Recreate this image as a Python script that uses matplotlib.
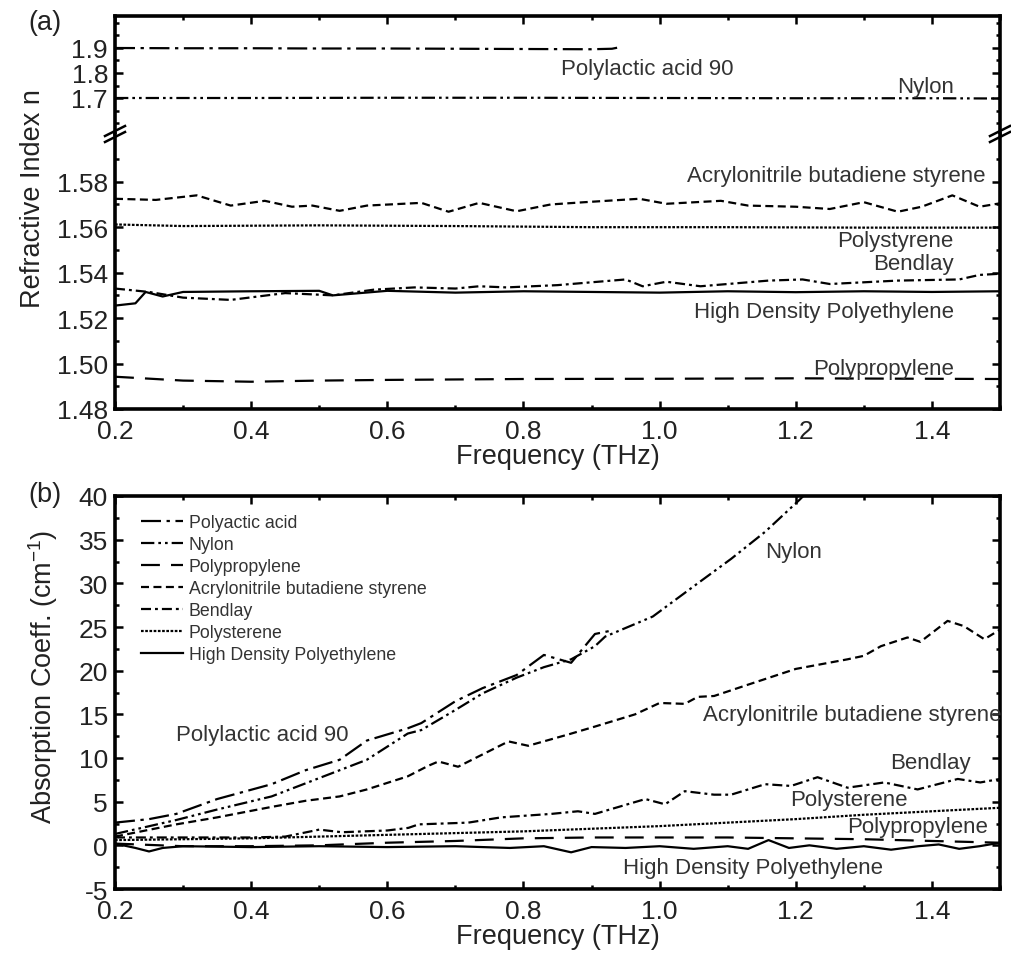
import matplotlib
matplotlib.use('Agg')
import matplotlib.pyplot as plt
from matplotlib.ticker import FixedLocator, MultipleLocator, FormatStrFormatter
from matplotlib.lines import Line2D

plt.rcParams['font.family'] = ['Liberation Sans', 'DejaVu Sans']
plt.rcParams['mathtext.default'] = 'regular'

# ---------------- (a) refractive index ----------------
pla_n_freq = [0.20, 0.30, 0.40, 0.50, 0.60, 0.70, 0.80, 0.90, 0.93, 0.945]
pla_n = [1.900, 1.899, 1.899, 1.898, 1.898, 1.897, 1.896, 1.895, 1.897, 1.905]

nylon_n_freq = [0.20, 0.40, 0.60, 0.80, 1.00, 1.20, 1.40, 1.50]
nylon_n = [1.700, 1.700, 1.701, 1.701, 1.700, 1.699, 1.699, 1.698]

abs_n_freq = [0.20, 0.26, 0.32, 0.37, 0.42, 0.46, 0.49, 0.53, 0.57, 0.65, 0.69, 0.735, 0.79,
              0.84, 0.89, 0.97, 1.01, 1.09, 1.13, 1.20, 1.25, 1.30, 1.35, 1.385, 1.43, 1.47, 1.50]
abs_n = [1.5725, 1.5720, 1.5740, 1.5695, 1.5716, 1.5690, 1.5695, 1.5672, 1.5695, 1.5707, 1.5668,
         1.5707, 1.5670, 1.5700, 1.5710, 1.5725, 1.5703, 1.5716, 1.5695, 1.5690, 1.5680, 1.5710,
         1.5668, 1.5690, 1.5740, 1.5690, 1.5705]

ps_n_freq = [0.20, 0.30, 0.50, 0.70, 0.90, 1.10, 1.30, 1.50]
ps_n = [1.5612, 1.5605, 1.5608, 1.5605, 1.5600, 1.5600, 1.5598, 1.5598]

bend_n_freq = [0.20, 0.25, 0.30, 0.37, 0.45, 0.52, 0.58, 0.64, 0.70, 0.735, 0.775, 0.85, 0.95,
               0.975, 1.01, 1.06, 1.16, 1.21, 1.25, 1.35, 1.44, 1.47, 1.50]
bend_n = [1.5330, 1.5315, 1.5290, 1.5280, 1.5310, 1.5300, 1.5325, 1.5335, 1.5330, 1.5340, 1.5335,
          1.5345, 1.5370, 1.5340, 1.5360, 1.5340, 1.5365, 1.5370, 1.5350, 1.5365, 1.5370, 1.5390,
          1.5395]

hdpe_n_freq = [0.20, 0.23, 0.245, 0.27, 0.30, 0.40, 0.50, 0.52, 0.56, 0.60, 0.70, 0.80, 0.90,
               1.00, 1.10, 1.20, 1.30, 1.40, 1.50]
hdpe_n = [1.5255, 1.5265, 1.5315, 1.5295, 1.5315, 1.5318, 1.5320, 1.5300, 1.5310, 1.5320, 1.5312,
          1.5318, 1.5315, 1.5312, 1.5318, 1.5314, 1.5318, 1.5315, 1.5318]

pp_n_freq = [0.20, 0.30, 0.40, 0.50, 0.60, 0.80, 1.00, 1.20, 1.40, 1.50]
pp_n = [1.4942, 1.4925, 1.4920, 1.4925, 1.4928, 1.4932, 1.4933, 1.4935, 1.4933, 1.4932]

# ---------------- (b) absorption coefficient ----------------
pla_a_freq = [0.20, 0.25, 0.29, 0.35, 0.43, 0.48, 0.53, 0.57, 0.63, 0.65, 0.70, 0.74, 0.79,
              0.83, 0.87, 0.905, 0.93]
pla_a = [2.6, 3.0, 3.6, 5.3, 7.0, 8.6, 9.8, 12.0, 13.4, 14.0, 16.5, 18.0, 19.5, 21.8, 20.9, 24.2, 24.6]

nylon_a_freq = [0.20, 0.29, 0.35, 0.43, 0.48, 0.57, 0.63, 0.65, 0.70, 0.74, 0.79, 0.83, 0.87,
                0.905, 0.92, 0.99, 1.056, 1.105, 1.155, 1.206, 1.23]
nylon_a = [1.3, 2.9, 4.1, 5.6, 7.1, 9.8, 12.8, 13.2, 15.5, 17.4, 19.2, 20.4, 21.3, 22.8, 23.9,
           26.2, 30.0, 32.8, 35.9, 39.6, 41.5]

abs_a_freq = [0.20, 0.29, 0.35, 0.43, 0.48, 0.53, 0.57, 0.63, 0.66, 0.675, 0.704, 0.778, 0.807,
              0.866, 0.905, 0.964, 1.00, 1.037, 1.056, 1.08, 1.13, 1.20, 1.276, 1.30, 1.325,
              1.364, 1.383, 1.423, 1.447, 1.477, 1.50]
abs_a = [1.0, 2.4, 3.2, 4.4, 5.1, 5.6, 6.4, 7.9, 9.1, 9.6, 9.0, 11.9, 11.4, 12.7, 13.6, 15.0,
         16.3, 16.2, 17.0, 17.1, 18.4, 20.2, 21.3, 21.7, 22.8, 23.8, 23.3, 25.7, 25.1, 23.6, 24.7]

bend_a_freq = [0.20, 0.30, 0.40, 0.45, 0.50, 0.533, 0.60, 0.631, 0.646, 0.719, 0.767, 0.841,
               0.88, 0.905, 0.979, 1.008, 1.037, 1.08, 1.105, 1.155, 1.193, 1.232, 1.276, 1.33,
               1.379, 1.438, 1.471, 1.50]
bend_a = [0.9, 0.9, 0.9, 1.0, 1.8, 1.5, 1.7, 2.0, 2.4, 2.6, 3.2, 3.6, 3.9, 3.6, 5.3, 4.7, 6.2,
          5.8, 5.8, 7.0, 6.8, 7.8, 6.6, 7.2, 6.4, 7.6, 7.2, 7.6]

ps_a_freq = [0.20, 0.40, 0.60, 0.80, 1.00, 1.10, 1.20, 1.30, 1.40, 1.50]
ps_a = [0.6, 0.8, 1.2, 1.6, 2.2, 2.6, 3.0, 3.5, 3.9, 4.3]

pp_a_freq = [0.20, 0.30, 0.40, 0.50, 0.60, 0.70, 0.80, 0.90, 1.00, 1.10, 1.20, 1.30, 1.40, 1.50]
pp_a = [0.2, -0.1, -0.1, 0.0, 0.3, 0.5, 0.8, 0.9, 0.9, 0.9, 0.8, 0.7, 0.5, 0.3]

hdpe_a_freq = [0.20, 0.23, 0.25, 0.27, 0.30, 0.40, 0.50, 0.60, 0.70, 0.78, 0.83, 0.87, 0.90,
               0.95, 1.00, 1.05, 1.10, 1.13, 1.16, 1.19, 1.22, 1.26, 1.30, 1.34, 1.38, 1.41,
               1.44, 1.47, 1.50]
hdpe_a = [0.2, -0.3, -0.7, -0.3, -0.1, -0.2, -0.1, -0.2, -0.1, -0.3, -0.1, -0.8, -0.2, -0.3,
          -0.1, -0.4, -0.1, -0.4, 0.6, -0.3, 0.0, -0.4, -0.1, -0.5, -0.1, 0.1, -0.4, -0.1, 0.3]

legend_names = ['Polyactic acid', 'Nylon', 'Polypropylene', 'Acrylonitrile butadiene styrene',
                'Bendlay', 'Polysterene', 'High Density Polyethylene']

# line styles
LW = 1.6
ls_pla = (0, (9, 2.5, 1.5, 2.5))
ls_nylon = (0, (6, 1.8, 1.2, 1.8, 1.2, 1.8))
ls_pp = (0, (8.5, 5))
ls_abs = (0, (3.6, 2))
ls_bend = (0, (4.5, 1.8, 1.3, 1.8))
ls_ps = (0, (1.2, 0.7))

TXT = '#333333'
TICK_FS = 19
LAB_FS = 19.5
ANN_FS = 16


def style_axis(ax, top, bottom):
    for s in ax.spines.values():
        s.set_linewidth(2.6)
    ax.tick_params(which='both', direction='in', left=True, right=True, top=top, bottom=bottom,
                   labelsize=TICK_FS, labelcolor='#222222', width=1.8, pad=5)
    ax.tick_params(axis='x', which='both', pad=7)
    ax.tick_params(which='major', length=5.5)
    ax.tick_params(which='minor', length=3)
    ax.set_xlim(0.2, 1.5)
    ax.xaxis.set_major_locator(MultipleLocator(0.2))
    ax.xaxis.set_minor_locator(MultipleLocator(0.1))
    ax.xaxis.set_major_formatter(FormatStrFormatter('%.1f'))


fig = plt.figure(figsize=(10.12, 9.54), dpi=100)
W, H = 1012.0, 954.0
left = 115 / W
width = (1000 - 115) / W

ax_up = fig.add_axes([left, 1 - 135 / H, width, (135 - 17) / H])
ax_lo = fig.add_axes([left, 1 - 410 / H, width, (410 - 135) / H])
ax_b = fig.add_axes([left, 1 - 890 / H, width, (890 - 497) / H])

# upper part of the broken axis
ax_up.plot(pla_n_freq, pla_n, color='k', lw=LW, ls=ls_pla)
ax_up.plot(nylon_n_freq, nylon_n, color='k', lw=LW, ls=ls_nylon)
style_axis(ax_up, top=True, bottom=False)
ax_up.spines['bottom'].set_visible(False)
ax_up.tick_params(labelbottom=False)
ax_up.set_ylim(1.556, 2.028)
ax_up.yaxis.set_major_locator(FixedLocator([1.7, 1.8, 1.9]))
ax_up.yaxis.set_minor_locator(FixedLocator([1.6, 1.65, 1.75, 1.85, 1.95, 2.0]))
ax_up.yaxis.set_major_formatter(FormatStrFormatter('%.1f'))

# lower part
ax_lo.plot(abs_n_freq, abs_n, color='k', lw=LW, ls=ls_abs)
ax_lo.plot(ps_n_freq, ps_n, color='k', lw=LW, ls=ls_ps)
ax_lo.plot(bend_n_freq, bend_n, color='k', lw=LW, ls=ls_bend)
ax_lo.plot(hdpe_n_freq, hdpe_n, color='k', lw=LW, ls='-')
ax_lo.plot(pp_n_freq, pp_n, color='k', lw=LW, ls=ls_pp)
style_axis(ax_lo, top=False, bottom=True)
ax_lo.spines['top'].set_visible(False)
ax_lo.set_ylim(1.48, 1.601)
ax_lo.yaxis.set_major_locator(FixedLocator([1.48, 1.50, 1.52, 1.54, 1.56, 1.58]))
ax_lo.yaxis.set_minor_locator(FixedLocator([1.49, 1.51, 1.53, 1.55, 1.57, 1.59]))
ax_lo.yaxis.set_major_formatter(FormatStrFormatter('%.2f'))
ax_lo.set_xlabel('Frequency (THz)', fontsize=LAB_FS, color='#222222', labelpad=0)

ax_up.text(0.855, 1.816, 'Polylactic acid 90', fontsize=ANN_FS, color=TXT, ha='left', va='center')
ax_up.text(1.432, 1.744, 'Nylon', fontsize=ANN_FS, color=TXT, ha='right', va='center')
ax_lo.text(1.479, 1.5826, 'Acrylonitrile butadiene styrene', fontsize=ANN_FS, color=TXT,
           ha='right', va='center')
ax_lo.text(1.432, 1.554, 'Polystyrene', fontsize=ANN_FS, color=TXT, ha='right', va='center')
ax_lo.text(1.432, 1.5439, 'Bendlay', fontsize=ANN_FS, color=TXT, ha='right', va='center')
ax_lo.text(1.432, 1.5227, 'High Density Polyethylene', fontsize=ANN_FS, color=TXT,
           ha='right', va='center')
ax_lo.text(1.432, 1.4976, 'Polypropylene', fontsize=ANN_FS, color=TXT, ha='right', va='center')

# break marks on both sides
yj = ax_lo.get_position().y1
for xs in (ax_lo.get_position().x0, ax_lo.get_position().x1):
    for off in (-3.0, 3.0):
        fig.add_artist(Line2D([xs - 10 / W, xs + 10 / W],
                              [yj + (off - 5) / H, yj + (off + 5) / H],
                              transform=fig.transFigure, color='k', lw=1.8))

fig.text(33 / W, 1 - 199 / H, 'Refractive Index n', rotation=90, fontsize=LAB_FS,
         color='#222222', ha='center', va='center')
fig.text(28 / W, 1 - 23 / H, '(a)', fontsize=LAB_FS, color='#222222', ha='left', va='center')

# ---------------- panel (b) ----------------
ax_b.plot(pla_a_freq, pla_a, color='k', lw=LW, ls=ls_pla, label=legend_names[0])
ax_b.plot(nylon_a_freq, nylon_a, color='k', lw=LW, ls=ls_nylon, label=legend_names[1])
ax_b.plot(pp_a_freq, pp_a, color='k', lw=LW, ls=ls_pp, label=legend_names[2])
ax_b.plot(abs_a_freq, abs_a, color='k', lw=LW, ls=ls_abs, label=legend_names[3])
ax_b.plot(bend_a_freq, bend_a, color='k', lw=LW, ls=ls_bend, label=legend_names[4])
ax_b.plot(ps_a_freq, ps_a, color='k', lw=LW, ls=ls_ps, label=legend_names[5])
ax_b.plot(hdpe_a_freq, hdpe_a, color='k', lw=LW, ls='-', label=legend_names[6])
style_axis(ax_b, top=True, bottom=True)
ax_b.set_ylim(-5, 40)
ax_b.yaxis.set_major_locator(MultipleLocator(5))
ax_b.yaxis.set_minor_locator(MultipleLocator(2.5))
ax_b.yaxis.set_major_formatter(FormatStrFormatter('%d'))
ax_b.set_xlabel('Frequency (THz)', fontsize=LAB_FS, color='#222222', labelpad=0)

leg = ax_b.legend(loc='upper left', bbox_to_anchor=(0.027, 0.958), frameon=False,
                  fontsize=12.8, handlelength=2.4, handletextpad=0.3, labelspacing=0.28,
                  borderpad=0.1, borderaxespad=0)
for t in leg.get_texts():
    t.set_color(TXT)

ax_b.text(1.155, 33.7, 'Nylon', fontsize=ANN_FS, color=TXT, ha='left', va='center')
ax_b.text(1.064, 15.0, 'Acrylonitrile butadiene styrene', fontsize=ANN_FS, color=TXT,
          ha='left', va='center')
ax_b.text(1.457, 9.5, 'Bendlay', fontsize=ANN_FS, color=TXT, ha='right', va='center')
ax_b.text(1.191, 5.3, 'Polysterene', fontsize=ANN_FS, color=TXT, ha='left', va='center')
ax_b.text(1.482, 2.1, 'Polypropylene', fontsize=ANN_FS, color=TXT, ha='right', va='center')
ax_b.text(0.946, -2.5, 'High Density Polyethylene', fontsize=ANN_FS, color=TXT,
          ha='left', va='center')
ax_b.text(0.289, 12.7, 'Polylactic acid 90', fontsize=ANN_FS, color=TXT, ha='left', va='center')

fig.text(43 / W, 1 - 677 / H, 'Absorption Coeff. (cm$^{-1}$)', rotation=90, fontsize=LAB_FS,
         color='#222222', ha='center', va='center')
fig.text(28 / W, 1 - 495 / H, '(b)', fontsize=LAB_FS, color='#222222', ha='left', va='center')

fig.savefig('out.png', dpi=100)
